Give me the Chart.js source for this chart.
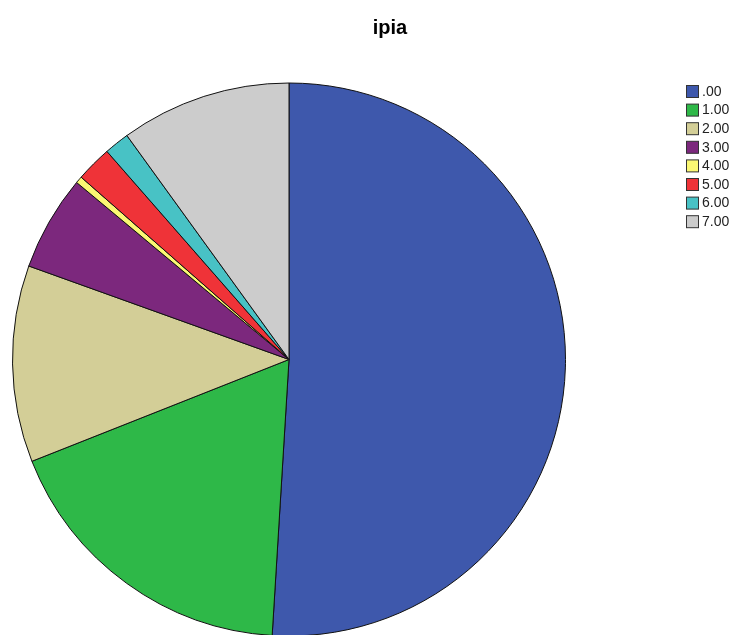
<!DOCTYPE html>
<html>
<head>
<meta charset="utf-8">
<script src="https://cdn.jsdelivr.net/npm/chart.js@4"></script>
<style>
  html, body { margin: 0; padding: 0; background: #fff; overflow: hidden; }
</style>
</head>
<body>
<canvas id="grafico" width="733" height="650"></canvas>
<script>
// dados (percentual de cada categoria)
const categorias = [".00", "1.00", "2.00", "3.00", "4.00", "5.00", "6.00", "7.00"];
const valores = [50.97, 18.03, 11.49, 5.57, 0.40, 2.10, 1.47, 9.97];
const cores = ["#3E58AC", "#2EB848", "#D3CE97", "#7C287D", "#FBF873", "#EF3338", "#48C2C5", "#CCCCCC"];
const titulo = "ipia";

// titulo e legenda desenhados na mao, pra ficarem no lugar certo
const legendaSpss = {
  id: "legendaSpss",
  afterDraw(chart) {
    const ctx = chart.ctx;
    ctx.save();
    // titulo
    ctx.fillStyle = "#000";
    ctx.font = "bold 20px 'Liberation Sans', Arial, sans-serif";
    ctx.textAlign = "center";
    ctx.textBaseline = "alphabetic";
    ctx.fillText(titulo, 390, 34);

    // legenda
    ctx.font = "14px 'Liberation Sans', Arial, sans-serif";
    ctx.textAlign = "left";
    ctx.textBaseline = "middle";
    let y = 85;
    chart.data.labels.forEach((label, i) => {
      ctx.fillStyle = chart.data.datasets[0].backgroundColor[i];
      ctx.fillRect(686.5, y + 0.5, 12, 12);
      ctx.strokeStyle = "#333";
      ctx.lineWidth = 1;
      ctx.strokeRect(686.5, y + 0.5, 12, 12);
      ctx.fillStyle = "#222";
      ctx.fillText(label, 702, y + 7);
      y += 18.6;
    });
    ctx.restore();
  }
};

let ctx = document.getElementById("grafico");
let grafico = new Chart(ctx, {
  type: "pie",
  data: {
    labels: categorias,
    datasets: [{
      data: valores,
      backgroundColor: cores,
      borderColor: "#111",
      borderWidth: 1
    }]
  },
  options: {
    responsive: false,
    devicePixelRatio: 1,
    animation: false,
    radius: 276.5,
    layout: {
      padding: { left: 12, right: 167, top: 82, bottom: 13 }
    },
    plugins: {
      legend: { display: false },
      title: { display: false },
      tooltip: { enabled: false }
    }
  },
  plugins: [legendaSpss]
});
</script>
</body>
</html>
